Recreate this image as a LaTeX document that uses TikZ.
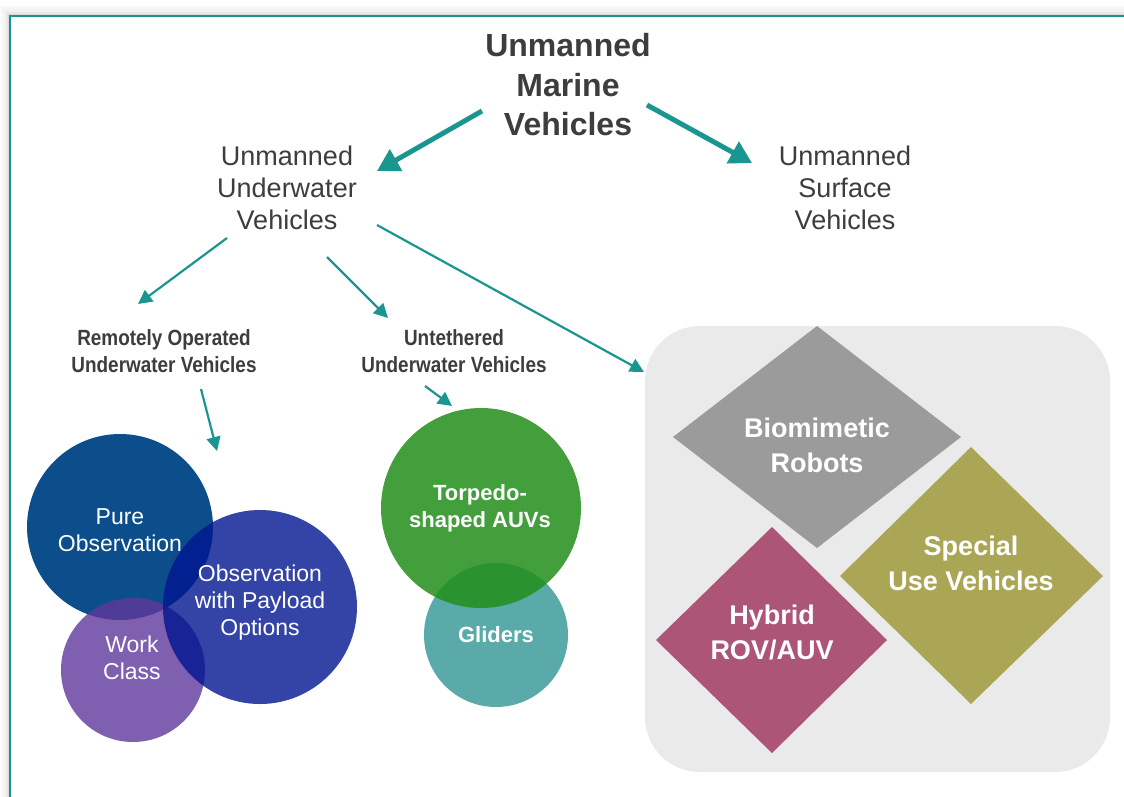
\documentclass[tikz,border=0pt]{standalone}
\usepackage{fontspec}
\setmainfont{Liberation Sans}
\usetikzlibrary{arrows.meta}
\definecolor{tealc}{HTML}{1A9690}
\definecolor{txtgray}{HTML}{3D3D3D}
\definecolor{boxgray}{HTML}{EAEAEA}
\definecolor{cpure}{HTML}{0C4E8C}
\definecolor{cpay}{HTML}{001590}
\definecolor{cwork}{HTML}{60389C}
\definecolor{ctorp}{HTML}{228F1A}
\definecolor{cglid}{HTML}{5AAAA9}
\definecolor{cbio}{HTML}{9B9B9B}
\definecolor{cspec}{HTML}{ABA655}
\definecolor{chyb}{HTML}{AD5577}
\tikzset{
  bigarrow/.style={draw=tealc, line width=5pt, -{Triangle[length=22pt,width=24pt]}},
  smallarrow/.style={draw=tealc, line width=2.2pt, -{Triangle[length=14pt,width=14pt]}},
  toplabel/.style={text=txtgray, align=center, inner sep=0pt},
  condlabel/.style={text=txtgray, align=center, inner sep=0pt, font=\fontsize{22}{27}\selectfont\bfseries},
  whitelabel/.style={text=white, align=center, inner sep=0pt},
}
\newcommand{\cond}[1]{\scalebox{0.86}[1]{#1}}
\begin{document}
\begin{tikzpicture}[x=1pt,y=-1pt]
\useasboundingbox (0,0) rectangle (1124,796);
\clip (0,0) rectangle (1124,796);
\fill[white] (0,0) rectangle (1124,796);
% shadow of frame
\fill[black!3] (1,6) rectangle (1140,810);
\fill[black!5] (4,9) rectangle (1140,810);
\fill[black!9] (6,12) rectangle (1140,810);
\fill[black!15] (8,14) rectangle (1140,810);
% frame
\draw[tealc, line width=2.6pt, fill=white] (10,16) rectangle (1140,810);

% grey box
\node[fill=boxgray, rounded corners=55pt, minimum width=465pt, minimum height=446pt, inner sep=0pt] (box) at (877.5,549) {};

% diamonds
\fill[cbio] (817,326) -- (961,437) -- (817,548) -- (673,437) -- cycle;
\fill[cspec] (971,447) -- (1103,576) -- (971,704) -- (840,576) -- cycle;
\fill[chyb] (772,527) -- (887,640) -- (772,753) -- (656,640) -- cycle;
\node[whitelabel, font=\fontsize{27}{35}\selectfont\bfseries] (bio) at (817,445) {Biomimetic\\Robots};
\node[whitelabel, font=\fontsize{27}{35}\selectfont\bfseries] (spec) at (971,563) {Special\\Use Vehicles};
\node[whitelabel, font=\fontsize{27}{35}\selectfont\bfseries] (hyb) at (772,632) {Hybrid\\ROV/AUV};

% blue circles
\fill[cpure] (120,527) circle[radius=93pt];
\fill[cwork, fill opacity=0.8] (133,670) circle[radius=72pt];
\fill[cpay, fill opacity=0.8] (260,607) circle[radius=97pt];
\node[whitelabel, font=\fontsize{23}{27}\selectfont] (pure) at (120,530) {Pure\\Observation};
\node[whitelabel, font=\fontsize{23}{27}\selectfont] (pay) at (260,603) {Observation\\with Payload\\Options};
\node[whitelabel, font=\fontsize{23}{27}\selectfont] (work) at (132,658) {Work\\Class};

% green circles
\fill[cglid] (496,635) circle[radius=72pt];
\fill[ctorp, fill opacity=0.85] (481,508) circle[radius=100pt];
\node[whitelabel, font=\fontsize{22}{27}\selectfont\bfseries] (torp) at (480,508) {Torpedo-\\shaped AUVs};
\node[whitelabel, font=\fontsize{22}{27}\selectfont\bfseries] (glid) at (496,635) {Gliders};

% text labels
\node[toplabel, font=\fontsize{32}{39.5}\selectfont\bfseries] (umv) at (568,85) {Unmanned\\Marine\\Vehicles};
\node[toplabel, font=\fontsize{27}{32}\selectfont] (uuv) at (287,188) {Unmanned\\Underwater\\Vehicles};
\node[toplabel, font=\fontsize{27}{32}\selectfont] (usv) at (845,188) {Unmanned\\Surface\\Vehicles};
\node[condlabel] (rov) at (164,351) {\cond{Remotely Operated}\\\cond{Underwater Vehicles}};
\node[condlabel] (unt) at (454,351) {\cond{Untethered}\\\cond{Underwater Vehicles}};

% arrow end points
\coordinate (a1s) at (482,111); \coordinate (a1e) at (377,171);
\coordinate (a2s) at (647,105); \coordinate (a2e) at (752,163);
\coordinate (a3s) at (227,238); \coordinate (a3e) at (138,304);
\coordinate (a4s) at (327,257); \coordinate (a4e) at (388,318);
\coordinate (a5s) at (377,225); \coordinate (a5e) at (644,372);
\coordinate (a6s) at (201,389); \coordinate (a6e) at (217,451);
\coordinate (a7s) at (425,386); \coordinate (a7e) at (452,406);

\draw[bigarrow] (a1s) -- (a1e);
\draw[bigarrow] (a2s) -- (a2e);
\draw[smallarrow] (a3s) -- (a3e);
\draw[smallarrow] (a4s) -- (a4e);
\draw[smallarrow] (a5s) -- (a5e);
\draw[smallarrow] (a6s) -- (a6e);
\draw[smallarrow] (a7s) -- (a7e);
\end{tikzpicture}
\end{document}
